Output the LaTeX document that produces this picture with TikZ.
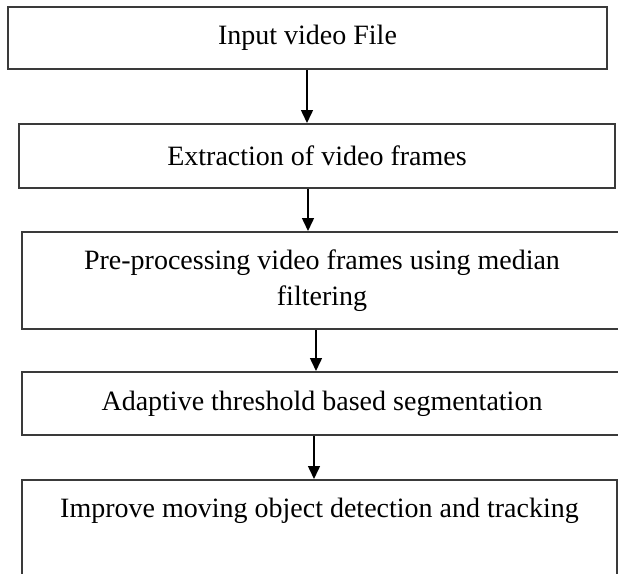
\documentclass[tikz,border=0pt]{standalone}
\usepackage{fontspec}
\setmainfont{Liberation Serif}
\usetikzlibrary{arrows.meta}
\definecolor{boxline}{HTML}{3A3A3A}
\begin{document}
\begin{tikzpicture}[x=1pt,y=-1pt,
  box/.style={draw=boxline, line width=2pt, fill=none, inner sep=0pt,
    align=center, font=\fontsize{28}{36}\selectfont},
  arr/.style={draw=black, line width=1.5pt, -{Triangle[width=12pt,length=13pt]}}]
\useasboundingbox (0,0) rectangle (618,573);
\clip (0,0) rectangle (618,573);
\node[box, minimum width=599pt, minimum height=62pt] (b1) at (307.5,38) {Input video File};
\node[box, minimum width=596pt, minimum height=64pt] (b2) at (317,156) {Extraction of video frames};
\node[box, minimum width=600pt, minimum height=97pt] (b3) at (322,280.5) {Pre-processing video frames using median\\filtering};
\node[box, minimum width=600pt, minimum height=63pt] (b4) at (322,403.5) {Adaptive threshold based segmentation};
\node[box, minimum width=595pt, minimum height=100pt] (b5) at (319.5,530) {Improve moving object detection and tracking\\[-2pt]\strut};
\draw[arr] ([xshift=-0.5pt]b1.south) -- ([xshift=-10pt]b2.north);
\draw[arr] ([xshift=-9pt]b2.south) -- ([xshift=-14pt]b3.north);
\draw[arr] ([xshift=-6pt]b3.south) -- ([xshift=-6pt]b4.north);
\draw[arr] ([xshift=-8pt]b4.south) -- ([xshift=-5.5pt]b5.north);
\end{tikzpicture}
\end{document}
